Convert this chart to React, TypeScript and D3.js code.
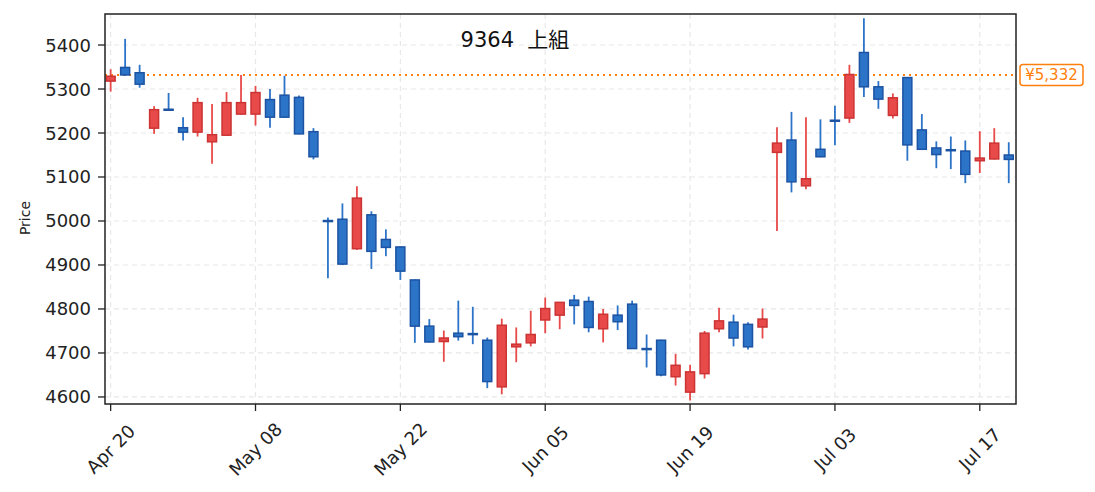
import { useMemo } from 'react'
import { scaleLinear, timeFormat, timeDay, range } from 'd3'

// OHLC, one entry per trading day
const opens = [
  5318, 5349, 5337, 5211, 5254, 5212, 5202, 5180, 5195, 5243, 5243, 5276, 5286, 5281, 5203, 5001,
  5004, 4937, 5014, 4958, 4941, 4866, 4761, 4726, 4745, 4744, 4729, 4623, 4714, 4723, 4775, 4786,
  4820, 4817, 4755, 4786, 4811, 4710, 4729, 4646, 4611, 4653, 4755, 4770, 4765, 4759, 5156, 5184,
  5080, 5163, 5229, 5234, 5383, 5305, 5240, 5326, 5207, 5166, 5162, 5159, 5137, 5141, 5150,
]
const highs = [
  5345, 5414, 5355, 5261, 5291, 5236, 5280, 5266, 5293, 5332, 5307, 5300, 5330, 5285, 5211, 5008,
  5040, 5079, 5022, 4981, 4942, 4867, 4777, 4751, 4819, 4805, 4735, 4778, 4758, 4796, 4826, 4816,
  4832, 4828, 4800, 4808, 4819, 4742, 4730, 4698, 4673, 4750, 4803, 4787, 4770, 4801, 5213, 5248,
  5236, 5231, 5262, 5355, 5461, 5318, 5290, 5327, 5243, 5181, 5192, 5183, 5204, 5211, 5179,
]
const lows = [
  5294, 5330, 5303, 5198, 5252, 5183, 5192, 5130, 5194, 5242, 5217, 5212, 5235, 5197, 5140, 4870,
  4900, 4934, 4891, 4920, 4866, 4723, 4724, 4680, 4728, 4720, 4620, 4606, 4679, 4715, 4745, 4754,
  4765, 4747, 4724, 4752, 4710, 4667, 4647, 4626, 4592, 4642, 4747, 4715, 4708, 4733, 4977, 5065,
  5072, 5145, 5172, 5223, 5282, 5255, 5233, 5137, 5162, 5120, 5118, 5086, 5109, 5140, 5086,
]
const closes = [
  5329, 5332, 5311, 5253, 5252, 5202, 5269, 5196, 5269, 5269, 5292, 5236, 5236, 5198, 5146, 4999,
  4902, 5052, 4931, 4940, 4886, 4761, 4725, 4734, 4737, 4742, 4635, 4763, 4720, 4742, 4801, 4815,
  4808, 4758, 4788, 4771, 4710, 4708, 4650, 4672, 4657, 4745, 4773, 4734, 4714, 4777, 5177, 5089,
  5096, 5146, 5227, 5333, 5305, 5277, 5280, 5173, 5163, 5151, 5160, 5106, 5143, 5177, 5140,
]

const firstDay = '2026-04-20'
const holidays = ['2026-04-29', '2026-05-04', '2026-05-05', '2026-05-06', '2026-07-20']
const yTicks = [4600, 4700, 4800, 4900, 5000, 5100, 5200, 5300, 5400]
const xTickEvery = 10
const markerPrice = 5332
const title = '9364  上組'

const width = 1095
const height = 492
const plot = { left: 105, right: 1016, top: 14, bottom: 404 }
const font = '"DejaVu Sans", "Noto Sans CJK JP", sans-serif'

const upFill = '#e84a4a'
const upStroke = '#cc3333'
const downFill = '#2c74c8'
const downStroke = '#1c53a3'
const markerColor = '#ff7f0e'

function tradingDays(start: string, count: number) {
  const iso = timeFormat('%Y-%m-%d')
  const days: Date[] = []
  let day = new Date(start + 'T00:00:00')
  while (days.length < count) {
    const wd = day.getDay()
    if (wd !== 0 && wd !== 6 && !holidays.includes(iso(day))) days.push(day)
    day = timeDay.offset(day, 1)
  }
  return days
}

export default function App() {
  const dates = useMemo(() => tradingDays(firstDay, opens.length), [])
  const fmt = timeFormat('%b %d')

  const x = scaleLinear()
    .domain([-0.39, opens.length - 0.5])
    .range([plot.left, plot.right])
  const y = scaleLinear().domain([4584, 5470.5]).range([plot.bottom, plot.top])

  const step = x(1) - x(0)
  const bodyW = step * 0.62
  const xTicks = range(0, opens.length, xTickEvery)

  return (
    <div style={{ position: 'absolute', left: 0, top: 0 }}>
      <svg width={width} height={height} style={{ display: 'block', fontFamily: font }}>
        <rect width={width} height={height} fill="#fff" />

        {/* grid */}
        <g stroke="#e8e8e8" strokeWidth={1.2} strokeDasharray="5,4">
          {yTicks.map(t => (
            <line key={'gy' + t} x1={plot.left} x2={plot.right} y1={y(t)} y2={y(t)} />
          ))}
          {xTicks.map(i => (
            <line key={'gx' + i} x1={x(i)} x2={x(i)} y1={plot.top} y2={plot.bottom} />
          ))}
        </g>

        {/* marker line */}
        <line
          x1={plot.left}
          x2={plot.right}
          y1={y(markerPrice)}
          y2={y(markerPrice)}
          stroke={markerColor}
          strokeWidth={2}
          strokeDasharray="2,4"
        />

        {/* candles */}
        {opens.map((o, i) => {
          const c = closes[i]
          const up = c >= o
          const cx = x(i)
          const top = y(Math.max(o, c))
          const bottom = y(Math.min(o, c))
          const h = Math.max(bottom - top, 1)
          return (
            <g key={i}>
              <line
                x1={cx}
                x2={cx}
                y1={y(highs[i])}
                y2={y(lows[i])}
                stroke={up ? upFill : downFill}
                strokeWidth={1.8}
              />
              <rect
                x={cx - bodyW / 2}
                y={top}
                width={bodyW}
                height={h}
                fill={up ? upFill : downFill}
                stroke={up ? upStroke : downStroke}
                strokeWidth={1.5}
              />
            </g>
          )
        })}

        {/* frame */}
        <rect
          x={plot.left}
          y={plot.top}
          width={plot.right - plot.left}
          height={plot.bottom - plot.top}
          fill="none"
          stroke="#222"
          strokeWidth={1.5}
        />

        {/* y axis */}
        <g fontSize={18} fill="#222">
          {yTicks.map(t => (
            <g key={'ty' + t}>
              <line x1={plot.left - 7} x2={plot.left} y1={y(t)} y2={y(t)} stroke="#222" strokeWidth={1.3} />
              <text x={plot.left - 14} y={y(t)} textAnchor="end" dominantBaseline="central">
                {t}
              </text>
            </g>
          ))}
        </g>
        <text
          transform={`translate(25, 218) rotate(-90)`}
          textAnchor="middle"
          dominantBaseline="central"
          fontSize={14}
          fill="#222"
        >
          Price
        </text>

        {/* x axis */}
        <g fontSize={18} fill="#222">
          {xTicks.map(i => (
            <g key={'tx' + i}>
              <line x1={x(i)} x2={x(i)} y1={plot.bottom} y2={plot.bottom + 7} stroke="#222" strokeWidth={1.3} />
              <text
                transform={`translate(${x(i)}, ${plot.bottom + 45}) rotate(-45)`}
                textAnchor="middle"
                dominantBaseline="central"
              >
                {fmt(dates[i])}
              </text>
            </g>
          ))}
        </g>

        {/* title */}
        <text
          x={plot.left + (plot.right - plot.left) * 0.45}
          y={47}
          textAnchor="middle"
          fontSize={21}
          fill="#111"
          style={{ whiteSpace: 'pre' }}
        >
          {title}
        </text>

        {/* price tag */}
        <g>
          <rect
            x={plot.right + 4}
            y={y(markerPrice) - 10.5}
            width={63}
            height={21}
            rx={3}
            fill="#fff"
            stroke={markerColor}
            strokeWidth={1.5}
          />
          <text
            x={plot.right + 35.5}
            y={y(markerPrice) + 0.5}
            textAnchor="middle"
            dominantBaseline="central"
            fontSize={15}
            fill={markerColor}
          >
            {'¥' + markerPrice.toLocaleString('en-US')}
          </text>
        </g>
      </svg>
    </div>
  )
}
